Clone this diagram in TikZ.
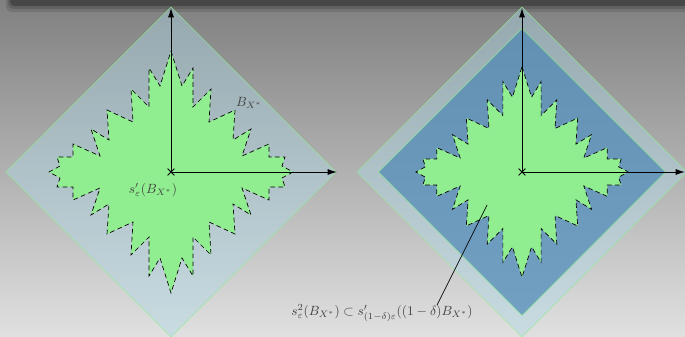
\documentclass[tikz,border=0pt]{standalone}
\usetikzlibrary{arrows.meta,shapes.misc}
\definecolor{lgreen}{RGB}{144,238,144}
\definecolor{lblue}{RGB}{173,216,230}
\definecolor{sblue}{RGB}{70,130,180}
\definecolor{bgtop}{RGB}{128,128,128}
\definecolor{bgmid}{RGB}{160,160,160}
\definecolor{bgbot}{RGB}{224,224,224}
\begin{document}
\begin{tikzpicture}[x=0.75pt,y=0.75pt,
  axis/.style={line width=0.75pt,-{Latex[length=7pt,width=4.5pt]}},
  outerdia/.style={fill=lblue,fill opacity=0.45,draw=lgreen,draw opacity=0.8,line width=0.4pt},
  innerdia/.style={fill=sblue,fill opacity=0.65,draw=lgreen,draw opacity=0.9,line width=0.4pt},
  originmark/.style={cross out,draw,minimum size=4.5pt,inner sep=0pt,line width=0.6pt},
  lab/.style={text=black!75,inner sep=1pt},
  spiky/.pic={
    \draw[fill=lgreen,dash pattern=on 3.5pt off 2.5pt,line width=0.5pt]
      (0,121) -- (11,86) -- (22,104) -- (22,65) -- (40,83) -- (38,50) -- (64,62) -- (62,32)
      -- (80,43) -- (71,16) -- (98,28) -- (98,15) -- (114,15) -- (111,6) -- (122,0)
      -- (111,-6) -- (114,-15) -- (98,-15) -- (98,-28) -- (71,-16) -- (80,-43) -- (62,-32)
      -- (64,-62) -- (38,-50) -- (40,-83) -- (22,-65) -- (22,-104) -- (11,-86) -- (0,-121)
      -- (-11,-86) -- (-22,-104) -- (-22,-65) -- (-40,-83) -- (-38,-50) -- (-64,-62) -- (-62,-32)
      -- (-80,-43) -- (-71,-16) -- (-98,-28) -- (-98,-15) -- (-114,-15) -- (-111,-6) -- (-122,0)
      -- (-111,6) -- (-114,15) -- (-98,15) -- (-98,28) -- (-71,16) -- (-80,43) -- (-62,32)
      -- (-64,62) -- (-38,50) -- (-40,83) -- (-22,65) -- (-22,104) -- (-11,86) -- cycle;
  }
]
\useasboundingbox (0,0) rectangle (685,336);
% background
\shade[top color=bgtop, middle color=bgmid, bottom color=bgbot] (0,0) rectangle (685,336);
\fill[black, opacity=0.12, rounded corners=4pt] (6,324) rectangle (700,345);
\fill[black, opacity=0.15, rounded corners=4pt] (8,327) rectangle (700,345);
\fill[black!72, rounded corners=3pt] (10,330) rectangle (700,345);

% coordinates
\coordinate (O1) at (171,164);
\coordinate (Y1) at (171,328);
\coordinate (X1) at (337,164);
\coordinate (O2) at (522,164);
\coordinate (Y2) at (522,328);
\coordinate (X2) at (685,164);

% left diamond
\path[outerdia] (171,329) -- (336,164) -- (171,-1) -- (6,164) -- cycle;
\pic at (O1) {spiky};
\draw[axis] (O1) -- (Y1);
\draw[axis] (O1) -- (X1);
\node[originmark] (c1) at (O1) {};
\node[lab] (bx) at (249,233) {$B_{X^*}$};
\node[lab] (sl) at (153,146) {$s'_\varepsilon(B_{X^*})$};

% right diamond
\path[outerdia] (522,329) -- (687,164) -- (522,-1) -- (357,164) -- cycle;
\path[innerdia] (522,307.5) -- (665.5,164) -- (522,20.5) -- (378.5,164) -- cycle;
\pic[scale=0.87] at (O2) {spiky};
\draw[axis] (O2) -- (Y2);
\draw[axis] (O2) -- (X2);
\node[originmark] (c2) at (O2) {};

% bottom label and leader
\node[lab] (rl) at (382,23) {$s^2_\varepsilon(B_{X^*})\subset s'_{(1-\delta)\varepsilon}((1-\delta)B_{X^*})$};
\coordinate (p) at (487,131);
\coordinate (q) at (437,31);
\draw[line width=0.5pt] (p) -- (q);
\end{tikzpicture}
\end{document}
